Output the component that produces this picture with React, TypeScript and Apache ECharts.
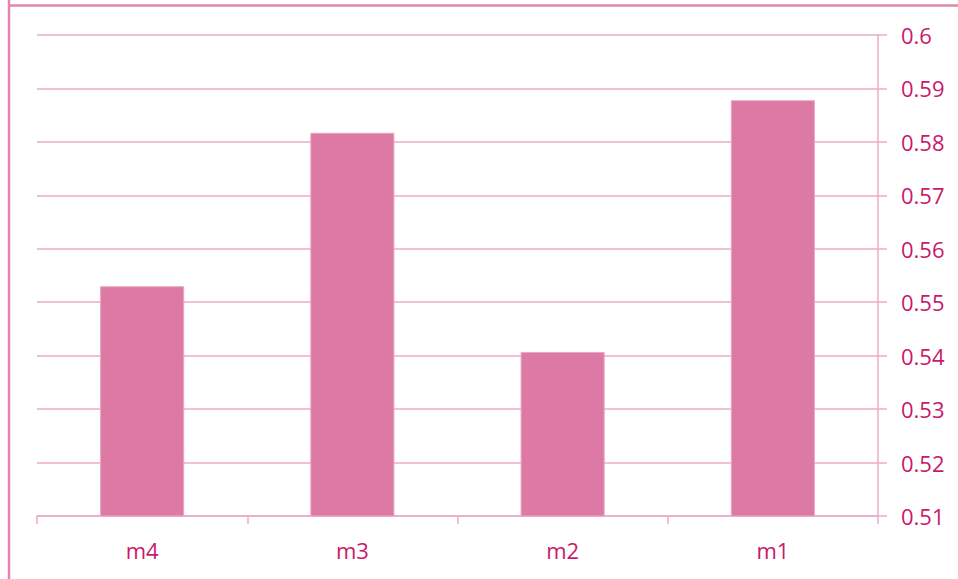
import React, { useEffect, useRef } from "react";
import * as echarts from "echarts";

// Models shown along the category axis, left to right
const categories = ["m4", "m3", "m2", "m1"];
// Score for each model
const scores = [0.553, 0.5817, 0.5407, 0.5878];
// Value axis range and step
const yMin = 0.51;
const yMax = 0.6;
const yStep = 0.01;

const TEXT = "#c8196c";
const GRID = "#ebabc9";
const BAR = "#dc7aa5";
const FRAME = "#e186ae";

export default function App() {
  const ref = useRef<HTMLDivElement>(null);

  useEffect(() => {
    if (!ref.current) return;
    const chart = echarts.init(ref.current, null, { renderer: "svg" });
    chart.setOption({
      animation: false,
      backgroundColor: "#ffffff",
      textStyle: { fontFamily: "Open Sans" },
      grid: { left: 37, right: 80, top: 35, bottom: 63, containLabel: false },
      graphic: [
        {
          type: "line",
          shape: { x1: 9, y1: 0, x2: 9, y2: 579 },
          style: { stroke: FRAME, lineWidth: 2.5 },
        },
        {
          type: "line",
          shape: { x1: 8, y1: 5.5, x2: 958, y2: 5.5 },
          style: { stroke: FRAME, lineWidth: 2.5 },
        },
      ],
      xAxis: {
        type: "category",
        data: categories,
        boundaryGap: true,
        axisLine: { show: true, lineStyle: { color: GRID, width: 1.5 } },
        axisTick: { show: true, alignWithLabel: false, length: 8, lineStyle: { color: GRID, width: 1.5 } },
        axisLabel: { color: TEXT, fontSize: 22, margin: 23, fontFamily: "Open Sans" },
        splitLine: { show: false },
      },
      yAxis: {
        type: "value",
        position: "right",
        min: yMin,
        max: yMax,
        interval: yStep,
        axisLine: { show: true, lineStyle: { color: GRID, width: 1.5 } },
        axisTick: { show: true, inside: false, length: 9, lineStyle: { color: GRID, width: 1.5 } },
        axisLabel: {
          color: TEXT,
          fontSize: 22,
          margin: 23,
          fontFamily: "Open Sans",
          formatter: (v: number) => String(parseFloat(v.toFixed(2))),
        },
        splitLine: { show: true, lineStyle: { color: GRID, width: 1.5 } },
      },
      series: [
        {
          type: "bar",
          data: scores,
          barWidth: "40%",
          itemStyle: { color: BAR, borderColor: "#eaa6c4", borderWidth: 1 },
        },
      ],
    });
    return () => chart.dispose();
  }, []);

  return (
    <div
      ref={ref}
      style={{ position: "fixed", left: 0, top: 0, width: 958, height: 579 }}
    />
  );
}
